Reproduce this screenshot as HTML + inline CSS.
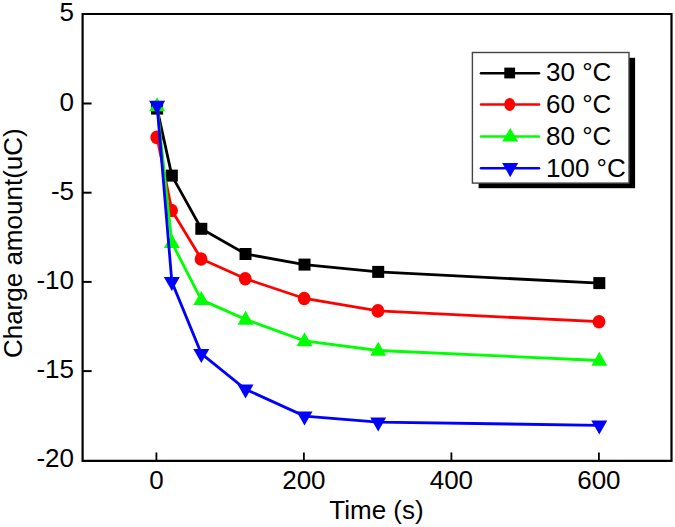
<!DOCTYPE html>
<html><head><meta charset="utf-8"><style>
html,body{margin:0;padding:0;background:#fff;}
svg{display:block;}
text{font-family:"Liberation Sans",sans-serif;font-size:26px;fill:#000;}
</style></head><body>
<svg width="675" height="527" viewBox="0 0 675 527">
<rect width="675" height="527" fill="#fff"/>
<polyline points="157.10,137.40 171.84,210.50 201.32,259.00 245.54,278.80 304.50,298.50 378.20,310.90 599.30,321.70" fill="none" stroke="#ff0000" stroke-width="2.8" stroke-linejoin="miter"/><ellipse cx="156.80" cy="137.40" rx="6.4" ry="6.8" fill="#ff0000"/><ellipse cx="171.54" cy="210.50" rx="6.4" ry="6.8" fill="#ff0000"/><ellipse cx="201.02" cy="259.00" rx="6.4" ry="6.8" fill="#ff0000"/><ellipse cx="245.24" cy="278.80" rx="6.4" ry="6.8" fill="#ff0000"/><ellipse cx="304.20" cy="298.50" rx="6.4" ry="6.8" fill="#ff0000"/><ellipse cx="377.90" cy="310.90" rx="6.4" ry="6.8" fill="#ff0000"/><ellipse cx="599.00" cy="321.70" rx="6.4" ry="6.8" fill="#ff0000"/><polyline points="157.10,108.60 171.84,175.60 201.32,228.80 245.54,254.00 304.50,264.60 378.20,271.90 599.30,283.10" fill="none" stroke="#000000" stroke-width="2.8" stroke-linejoin="miter"/><rect x="151.10" y="102.60" width="12" height="12" fill="#000000"/><rect x="165.84" y="169.60" width="12" height="12" fill="#000000"/><rect x="195.32" y="222.80" width="12" height="12" fill="#000000"/><rect x="239.54" y="248.00" width="12" height="12" fill="#000000"/><rect x="298.50" y="258.60" width="12" height="12" fill="#000000"/><rect x="372.20" y="265.90" width="12" height="12" fill="#000000"/><rect x="593.30" y="277.10" width="12" height="12" fill="#000000"/><polyline points="157.10,106.00 171.84,242.70 201.32,299.80 245.54,319.40 304.50,340.90 378.20,350.50 599.30,360.50" fill="none" stroke="#00ff00" stroke-width="2.8" stroke-linejoin="miter"/><polygon points="157.10,97.30 165.10,111.30 149.10,111.30" fill="#00ff00"/><polygon points="171.84,234.00 179.84,248.00 163.84,248.00" fill="#00ff00"/><polygon points="201.32,291.10 209.32,305.10 193.32,305.10" fill="#00ff00"/><polygon points="245.54,310.70 253.54,324.70 237.54,324.70" fill="#00ff00"/><polygon points="304.50,332.20 312.50,346.20 296.50,346.20" fill="#00ff00"/><polygon points="378.20,341.80 386.20,355.80 370.20,355.80" fill="#00ff00"/><polygon points="599.30,351.80 607.30,365.80 591.30,365.80" fill="#00ff00"/><polyline points="157.10,105.40 171.84,281.80 201.32,353.60 245.54,389.30 304.50,416.10 378.20,422.10 599.30,425.30" fill="none" stroke="#0000ff" stroke-width="2.8" stroke-linejoin="miter"/><polygon points="149.10,100.70 165.10,100.70 157.10,114.70" fill="#0000ff"/><polygon points="163.84,277.10 179.84,277.10 171.84,291.10" fill="#0000ff"/><polygon points="193.32,348.90 209.32,348.90 201.32,362.90" fill="#0000ff"/><polygon points="237.54,384.60 253.54,384.60 245.54,398.60" fill="#0000ff"/><polygon points="296.50,411.40 312.50,411.40 304.50,425.40" fill="#0000ff"/><polygon points="370.20,417.40 386.20,417.40 378.20,431.40" fill="#0000ff"/><polygon points="591.30,420.60 607.30,420.60 599.30,434.60" fill="#0000ff"/>
<path d="M82.6,14.0 H671.5 V460.8 H82.6 Z" fill="none" stroke="#000" stroke-width="2.2"/><line x1="82.6" y1="103.50" x2="91.6" y2="103.50" stroke="#000" stroke-width="2"/><line x1="82.6" y1="192.70" x2="91.6" y2="192.70" stroke="#000" stroke-width="2"/><line x1="82.6" y1="281.90" x2="91.6" y2="281.90" stroke="#000" stroke-width="2"/><line x1="82.6" y1="371.10" x2="91.6" y2="371.10" stroke="#000" stroke-width="2"/><line x1="156.40" y1="460.8" x2="156.40" y2="452.4" stroke="#000" stroke-width="1.8"/><line x1="303.90" y1="460.8" x2="303.90" y2="452.4" stroke="#000" stroke-width="1.8"/><line x1="451.40" y1="460.8" x2="451.40" y2="452.4" stroke="#000" stroke-width="1.8"/><line x1="598.90" y1="460.8" x2="598.90" y2="452.4" stroke="#000" stroke-width="1.8"/><text x="74" y="20.70" text-anchor="end">5</text><text x="74" y="110.60" text-anchor="end">0</text><text x="74" y="199.80" text-anchor="end">-5</text><text x="74" y="289.00" text-anchor="end">-10</text><text x="74" y="378.20" text-anchor="end">-15</text><text x="74" y="467.40" text-anchor="end">-20</text><text x="156.40" y="489.3" text-anchor="middle">0</text><text x="303.90" y="489.3" text-anchor="middle">200</text><text x="451.40" y="489.3" text-anchor="middle">400</text><text x="598.90" y="489.3" text-anchor="middle">600</text><text x="376.5" y="518.7" text-anchor="middle">Time (s)</text><text transform="translate(21.5,243.2) rotate(-90)" text-anchor="middle">Charge amount(uC)</text><rect x="478.6" y="57.8" width="156.5" height="130.4" fill="#000"/><rect x="472.4" y="52.5" width="156.6" height="130.6" fill="#fff" stroke="#444" stroke-width="1.4"/><line x1="481" y1="73.2" x2="539" y2="73.2" stroke="#000000" stroke-width="2.5" stroke-linecap="round"/><rect x="504.3" y="67.60000000000001" width="10.8" height="10.8" fill="#000000"/><text x="546" y="80.6">30 °C</text><line x1="481" y1="104.4" x2="539" y2="104.4" stroke="#ff0000" stroke-width="2.5" stroke-linecap="round"/><ellipse cx="509.7" cy="104.4" rx="5.4" ry="6.5" fill="#ff0000"/><text x="546" y="112.5">60 °C</text><line x1="481" y1="136.4" x2="539" y2="136.4" stroke="#00ff00" stroke-width="2.5" stroke-linecap="round"/><polygon points="510.20,128.00 518.20,141.60 502.20,141.60" fill="#00ff00"/><text x="546" y="144.6">80 °C</text><line x1="481" y1="168.3" x2="539" y2="168.3" stroke="#0000ff" stroke-width="2.5" stroke-linecap="round"/><polygon points="502.20,163.00 518.20,163.00 510.20,177.20" fill="#0000ff"/><text x="546" y="176.5">100 °C</text>
</svg>
</body></html>
